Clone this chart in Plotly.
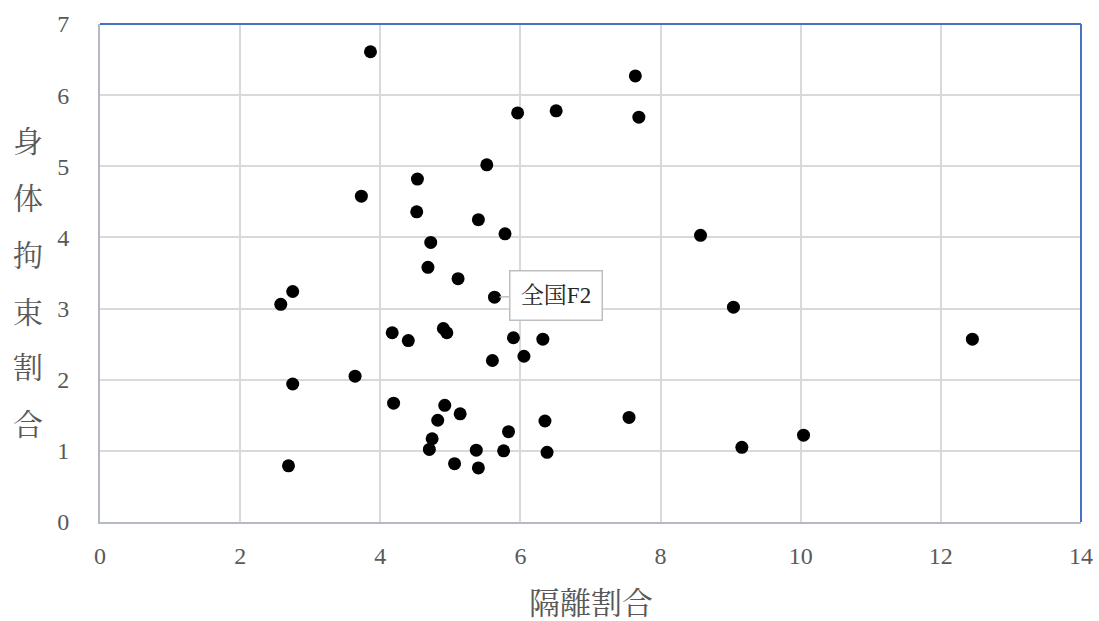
import plotly.graph_objects as go

# 隔離割合 (x) and 身体拘束割合 (y)
isolation = [3.86, 7.64, 5.96, 6.51, 7.69, 5.52, 4.53, 3.73, 4.52, 5.40,
             5.78, 8.57, 4.72, 4.68, 5.11, 2.75, 2.58, 5.63, 9.04, 4.17,
             4.40, 4.90, 4.95, 5.90, 6.32, 12.45, 6.05, 5.60, 3.64, 2.75,
             4.19, 4.92, 5.14, 7.55, 4.82, 6.35, 5.83, 10.04, 4.74, 4.70,
             5.37, 5.76, 9.16, 6.38, 5.06, 5.40, 2.69]
restraint = [6.61, 6.27, 5.75, 5.78, 5.69, 5.02, 4.82, 4.58, 4.36, 4.25,
             4.05, 4.03, 3.93, 3.58, 3.42, 3.24, 3.06, 3.16, 3.02, 2.66,
             2.55, 2.72, 2.66, 2.59, 2.57, 2.57, 2.33, 2.27, 2.05, 1.94,
             1.67, 1.64, 1.52, 1.47, 1.43, 1.42, 1.27, 1.22, 1.17, 1.02,
             1.01, 1.00, 1.05, 0.98, 0.82, 0.76, 0.79]

label_text = "全国F2"
label_x = 5.63
label_y = 3.16

x_ticks = [0, 2, 4, 6, 8, 10, 12, 14]
y_ticks = [0, 1, 2, 3, 4, 5, 6, 7]
x_title = "隔離割合"
y_title = "身体拘束割合"

FONT = "Liberation Serif, 'Noto Serif CJK JP', 'Noto Sans CJK JP', serif"
GRAY = "#595959"

fig = go.Figure()
fig.add_trace(go.Scatter(
    x=isolation, y=restraint, mode="markers",
    marker=dict(color="black", size=13, line=dict(width=0)),
    showlegend=False, hoverinfo="x+y",
))

W, H = 1099, 621
ml, mr, mt, mb = 100, 18, 24, 99
ph = H - mt - mb

fig.update_layout(
    width=W, height=H,
    margin=dict(l=ml, r=mr, t=mt, b=mb, autoexpand=False),
    paper_bgcolor="white", plot_bgcolor="white",
    font=dict(family=FONT, color=GRAY, size=24),
    xaxis=dict(range=[0, 14], tickvals=x_ticks, ticktext=[str(v) for v in x_ticks],
               showgrid=True, gridcolor="#d9d9d9", gridwidth=1.5,
               showline=True, linecolor="#b4b9c3", linewidth=2,
               zeroline=False, ticks="", ticklabelstandoff=11,
               tickfont=dict(family=FONT, size=24, color=GRAY)),
    yaxis=dict(range=[0, 7], tickvals=y_ticks, ticktext=[str(v) for v in y_ticks],
               showgrid=True, gridcolor="#d9d9d9", gridwidth=1.5,
               showline=True, linecolor="#b4b9c3", linewidth=2,
               zeroline=False, ticks="", ticklabelstandoff=24,
               tickfont=dict(family=FONT, size=24, color=GRAY)),
)

# top and right border (blue)
fig.add_shape(type="line", xref="paper", yref="paper", x0=0, x1=1, y0=1, y1=1,
              line=dict(color="#4472C4", width=2))
fig.add_shape(type="line", xref="paper", yref="paper", x0=1, x1=1, y0=0, y1=1,
              line=dict(color="#4472C4", width=2))

# callout label
fig.add_annotation(x=label_x, y=label_y, xref="x", yref="y", text=label_text,
                   showarrow=True, ax=61, ay=-2, arrowhead=0, arrowwidth=1.5,
                   arrowcolor="#bfbfbf", standoff=5,
                   font=dict(family=FONT, size=23, color="#262626"),
                   bgcolor="white", bordercolor="#bfbfbf", borderwidth=1.5,
                   width=89, height=46, borderpad=1)

# x title
fig.add_annotation(x=0.5, y=-(603 - (H - mb)) / ph, xref="paper", yref="paper",
                   text=x_title, showarrow=False, xanchor="center", yanchor="middle",
                   font=dict(family=FONT, size=31, color=GRAY))

# y title, stacked characters
char_py = [142, 198, 255, 312, 368, 424]
for ch, py in zip(y_title, char_py):
    fig.add_annotation(x=-(ml - 28) / (W - ml - mr), y=(H - mb - py) / ph,
                       xref="paper", yref="paper", text=ch, showarrow=False,
                       xanchor="center", yanchor="middle",
                       font=dict(family=FONT, size=30, color=GRAY))

fig.write_html("out.html", config={"displayModeBar": False},
               post_script="document.body.style.margin='0';")
